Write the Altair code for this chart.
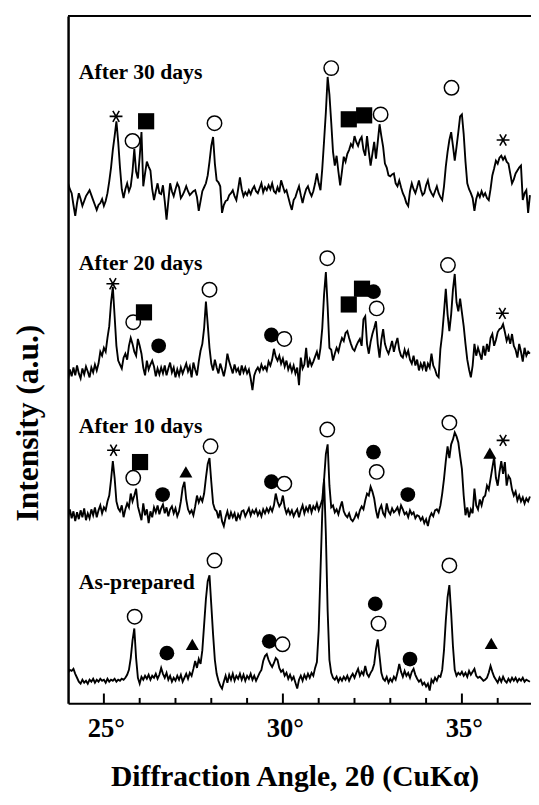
import altair as alt
import pandas as pd

# ---- data -------------------------------------------------------------
# 2-theta sampling grid (deg), 24.00 .. 36.90 in 0.05 steps
angles = [round(24.0 + 0.05 * i, 2) for i in range(259)]

series_names = ["As-prepared", "After 10 days", "After 20 days", "After 30 days"]
series_offsets = [22, 191, 335, 510]  # vertical stacking offsets (a.u.)

as_prepared = (
    [9, 12, 11, 13, 8, 4, 0, -2, 2, -1, 1, -2, 2, 0, 3, -1, 2, 0, 3, 1]
    + [2, -1, 3, 0, 2, 1, 3, 0, 2, 1, 3, 2, 4, 7, 12, 24, 42, 54, 24, 4]
    + [-2, 5, 2, 6, 3, 7, 2, 6, 4, 8, 3, 7, 14, 8, 4, 9, 2, 6, 0, 4]
    + [1, 6, 2, 7, 0, 4, 8, 3, 9, 6, 13, 21, 14, 23, 18, 32, 58, 84, 102, 108]
    + [78, 48, 22, 8, 1, -4, -7, 0, 6, -1, 7, 2, 8, 1, 6, 3, 8, 2, 7, 1]
    + [6, 3, 8, 2, 6, 1, 5, 9, 12, 21, 26, 28, 22, 18, 15, 19, 24, 22, 14, 10]
    + [12, 6, 9, 3, 7, 2, 5, -1, -7, 2, 6, 1, 7, 3, 8, 4, 9, 6, 14, 20]
    + [52, 112, 172, 206, 150, 72, 22, 9, 4, 2, 5, 0, 4, 1, 5, 2, 6, 1, 5, 8]
    + [4, 9, 13, 6, 10, 7, 16, 8, 5, 9, 12, 18, 33, 43, 26, 9, 3, 1, 5, -1]
    + [3, 0, 5, 2, 9, 18, 10, 5, 11, 6, 9, 4, 10, 13, 7, 3, 0, 2, -3, -1]
    + [-5, -2, -9, 2, -1, 4, 1, 6, 5, 12, 32, 62, 86, 98, 70, 36, 12, 6, 9, 7]
    + [10, 6, 9, 5, 11, 7, 10, 13, 6, 4, 5, 3, 1, 2, 4, 9, 16, 10, 5, 2]
    + [-1, 4, 0, 5, 1, -1, 3, 0, 4, 1, 4, 0, 3, 1, 4, 0, 2, 1, 0]
)

after_10 = (
    [-2, 6, -3, 4, -6, 3, -4, 5, -2, 7, -5, 2, -3, 6, 0, 8, -2, 5, 10, 2]
    + [8, 5, 14, 20, 36, 55, 38, 14, 7, 4, 10, -2, 6, 12, 8, 22, 14, 20, 27, 9]
    + [2, -5, 12, 0, 6, -8, 4, -2, 8, 3, 10, 1, 7, 11, 2, 8, -1, 6, 9, 2]
    + [7, -1, 4, 14, 28, 34, 16, 6, 2, 5, 0, 9, 20, 13, 18, 14, 22, 38, 52, 58]
    + [34, 12, 6, 4, -3, 5, -6, -11, -2, 4, -4, 3, -2, 2, -6, 1, -3, 4, 5, -1]
    + [3, 7, 0, 5, 2, 6, 0, 4, -1, 6, 2, 7, 3, 8, 4, 10, 22, 14, 9, 12]
    + [20, 8, 2, 6, 1, 5, -1, 3, 6, -2, 5, 10, 2, 8, 4, 11, 3, 9, 6, 12]
    + [5, 10, 16, 36, 62, 72, 30, 8, 10, 3, 6, 1, 8, 14, 4, 0, -2, 2, -4, -6]
    + [-3, 2, -2, 5, 9, 6, 15, 22, 20, 29, 24, 17, 5, -3, 6, 10, 2, -1, 12, 4]
    + [1, 7, 3, 5, 8, 2, 10, 6, 1, 3, -2, 5, 1, 3, -3, 0, -1, -5, -2, -8]
    + [-4, -11, -2, 2, -1, 5, 6, 3, 10, 22, 37, 55, 70, 58, 72, 77, 84, 80, 74, 60]
    + [47, 20, 0, 8, -2, 6, 2, 27, 10, 6, 16, 10, 18, 20, 30, 26, 37, 48, 59, 38]
    + [30, 44, 55, 42, 54, 30, 40, 37, 26, 20, 24, 15, 20, 14, 18, 12, 17, 14, 19]
)

after_20 = (
    [-6, 4, -3, 6, -2, 8, 0, -5, 5, -1, 7, 2, -4, 6, 1, 9, 3, 10, 22, 18]
    + [26, 22, 36, 48, 72, 88, 58, 28, 13, 9, 5, 16, 20, 14, 28, 36, 30, 22, 18, 35]
    + [28, 20, 6, -2, 13, 4, 9, 13, 7, -3, 5, -1, 6, 0, 8, -2, 5, 11, 1, 6]
    + [-4, 4, -2, 6, 0, 5, 10, 2, 7, -4, 11, 4, -2, 12, 23, 30, 46, 73, 50, 26]
    + [10, 3, 14, 6, 0, 10, 4, -3, 6, 20, 12, 6, 0, 9, 2, 5, -2, 8, 1, 6]
    + [0, 4, -5, -17, -2, 3, 6, 2, 9, 4, 7, 3, 12, 8, 14, 25, 17, 13, 18, 10]
    + [15, 7, 13, 4, 9, 2, 8, 0, 6, -12, 16, 5, 9, 26, 6, 14, 8, 12, 17, 22]
    + [14, 26, 46, 80, 103, 68, 26, 24, 13, 20, 26, 22, 30, 36, 33, 41, 43, 36, 30, 25]
    + [23, 28, 32, 35, 28, 55, 58, 30, 20, 32, 40, 46, 53, 30, 16, 34, 45, 30, 24, 20]
    + [26, 33, 22, 30, 36, 24, 18, 16, 24, 18, 23, 14, 10, 18, 8, 14, 3, 10, 5, 12]
    + [2, 10, 6, 20, 8, 4, -2, -4, 25, 40, 62, 86, 60, 43, 60, 85, 101, 72, 63, 76]
    + [62, 48, 30, 14, 4, -4, 8, 30, 18, 26, 20, 14, 28, 18, 30, 22, 36, 40, 28, 34]
    + [42, 45, 46, 50, 42, 33, 38, 30, 40, 28, 24, 16, 30, 22, 12, 26, 18, 22, 20]
)

after_30 = (
    [18, 12, 8, -4, -15, -2, 8, 2, -5, 0, 5, 8, 11, 6, 1, -4, -9, -4, -2, 2]
    + [-5, 0, 8, 20, 34, 52, 66, 81, 60, 34, 12, 3, 12, 18, 10, 15, 30, 53, 30, 23]
    + [45, 70, 15, 28, 40, 35, 31, 12, 1, 10, 18, 8, 7, 16, 0, -19, 0, 18, 10, 5]
    + [12, 18, 14, 3, 6, 10, 15, 10, 6, 8, 10, 11, 4, -10, 0, 10, 14, 18, 26, 40]
    + [56, 65, 38, 21, 19, 15, -12, -4, 0, 1, 6, 8, 11, 5, 1, 12, 24, 12, 5, 9]
    + [6, 11, 7, 12, 15, 10, 8, 13, 18, 9, 14, 11, 16, 12, 18, 10, 8, 14, 9, 21]
    + [15, 9, 11, 4, -3, -9, 1, 4, 10, 15, 6, -2, 6, 12, 15, 9, 5, 10, 18, 28]
    + [18, 11, 33, 61, 90, 126, 108, 80, 50, 36, 46, 30, 16, 30, 45, 40, 48, 52, 58, 55]
    + [66, 60, 56, 62, 65, 52, 46, 66, 50, 36, 48, 60, 43, 60, 78, 66, 55, 38, 34, 26]
    + [25, 27, 28, 18, 15, 21, 14, 8, 4, -2, -5, 10, 18, 12, 8, 14, 21, 12, 6, 8]
    + [16, 21, 12, 8, 5, 10, 15, 8, 4, 1, 15, 35, 50, 62, 70, 56, 41, 55, 70, 86]
    + [88, 68, 40, 18, 12, 8, 3, -10, 2, 8, 4, 10, 5, 8, 3, 1, 12, 26, 33, 41]
    + [38, 44, 46, 42, 45, 40, 38, 28, 18, 22, 28, 31, 34, 36, 1, 8, 11, -12, 6]
)

# phase markers: position (deg, a.u.) and kind
marker_angle = [
    25.34, 25.80, 26.18, 28.09, 31.35, 31.84, 32.27, 32.73, 34.71, 36.15,
    25.25, 26.12, 25.82, 26.53, 27.95, 29.68, 30.04, 31.24, 31.84, 32.21, 32.53, 32.62, 34.61, 36.13,
    25.27, 26.01, 25.82, 26.64, 27.29, 27.98, 29.68, 30.04, 31.24, 32.53, 32.62, 33.49, 34.65, 35.78, 36.15,
    25.86, 26.76, 27.47, 28.09, 29.62, 29.99, 32.58, 32.67, 33.55, 34.65, 35.82,
]
marker_value = [
    596, 571, 591, 589, 645, 593, 597, 598, 625, 572,
    426, 397, 387, 363, 420, 374, 370, 452, 405, 421, 418, 401, 445, 396,
    257, 245, 229, 212, 235, 261, 225, 223, 278, 255, 235, 212, 285, 254, 267,
    88, 51, 60, 145, 63, 60, 101, 81, 45, 140, 61,
]
marker_kind = [
    "star", "open", "square", "open", "open", "square", "square", "open", "open", "star",
    "star", "square", "open", "filled", "open", "filled", "open", "open", "square", "square", "filled", "open", "open", "star",
    "star", "square", "open", "filled", "triangle", "open", "filled", "open", "open", "filled", "open", "filled", "open", "triangle", "star",
    "open", "filled", "triangle", "open", "filled", "open", "filled", "open", "filled", "open", "triangle",
]

label_angle = [24.30, 24.30, 24.30, 24.30]
label_value = [116, 274, 440, 634]

major_ticks = [25, 30, 35]
minor_ticks = [26, 27, 28, 29, 31, 32, 33, 34, 36]

# ---- tables -----------------------------------------------------------
rows = []
for name, off, vals in zip(series_names, series_offsets,
                           [as_prepared, after_10, after_20, after_30]):
    for a, v in zip(angles, vals):
        rows.append({"series": name, "angle": a, "intensity": v + off})
lines_df = pd.DataFrame(rows)

markers_df = pd.DataFrame({"angle": marker_angle, "intensity": marker_value,
                           "kind": marker_kind})
labels_df = pd.DataFrame({"angle": label_angle, "intensity": label_value,
                          "label": series_names})
major_df = pd.DataFrame({"angle": major_ticks})
minor_df = pd.DataFrame({"angle": minor_ticks})

W, H = 470, 698
FONT = "Liberation Serif"

xscale = alt.Scale(domain=[24, 36.93], nice=False, zero=False)
yscale = alt.Scale(domain=[0, 698], nice=False, zero=False)

x_main = alt.X(
    "angle:Q", scale=xscale,
    axis=alt.Axis(
        values=major_ticks, labelExpr="datum.value + '°'",
        ticks=False, tickSize=0, grid=False,
        domainWidth=2, domainColor="black",
        labelFont=FONT, labelFontSize=27, labelFontWeight="bold",
        labelColor="black", labelBaseline="alphabetic", labelPadding=34,
        labelOffset=2,
        title="Diffraction Angle, 2θ (CuKα)", titleFont=FONT,
        titleFontSize=30, titleFontWeight="bold", titleColor="black",
        titleBaseline="alphabetic", titleX=230, titleY=83,
    ),
)
y_main = alt.Y(
    "intensity:Q", scale=yscale,
    axis=alt.Axis(
        labels=False, ticks=False, grid=False,
        domainWidth=2.5, domainColor="black",
        title="Intensity (a.u.)", titleFont=FONT, titleFontSize=32,
        titleFontWeight="bold", titleColor="black",
        titleAngle=270, titleBaseline="alphabetic", titleAlign="center",
        titleX=-31, titleY=413,
    ),
)
xs = alt.X("angle:Q", scale=xscale)
ys = alt.Y("intensity:Q", scale=yscale)

lines = alt.Chart(lines_df).mark_line(
    color="black", strokeWidth=1.9, clip=True
).encode(x=x_main, y=y_main, detail="series:N", order="angle:Q")

def mk(kind, **kw):
    return alt.Chart(markers_df).transform_filter(
        alt.datum.kind == kind
    ).mark_point(opacity=1, **kw).encode(x=xs, y=ys)

filled_c = mk("filled", shape="circle", filled=True, color="black", size=225)
open_c = mk("open", shape="circle", filled=True, fill="white", stroke="black",
            strokeWidth=1.5, size=215)
squares = mk("square", shape="square", filled=True, color="black", size=270)
tris = mk("triangle", shape="triangle-up", filled=True, color="black", size=175)
stars = mk("star", shape="M-1,0L1,0M-0.5,-0.866L0.5,0.866M-0.5,0.866L0.5,-0.866",
           filled=False, stroke="black", strokeWidth=1.6, size=170)

labels = alt.Chart(labels_df).mark_text(
    align="left", baseline="alphabetic", font=FONT, fontSize=22,
    fontWeight="bold", color="black"
).encode(x=xs, y=ys, text="label:N")

major = alt.Chart(major_df).mark_rule(color="black", strokeWidth=2).encode(
    x=xs, y=alt.value(H - 10), y2=alt.value(H))
minor = alt.Chart(minor_df).mark_rule(color="black", strokeWidth=2).encode(
    x=xs, y=alt.value(H - 5.5), y2=alt.value(H))
top = alt.Chart(major_df).mark_rule(color="black", strokeWidth=2).encode(
    x=alt.value(0), x2=alt.value(W), y=alt.value(0))

chart = alt.layer(
    lines, major, minor, top, filled_c, open_c, squares, tris, stars, labels
).properties(
    width=W, height=H,
    autosize=alt.AutoSizeParams(type="none"),
    padding={"left": 61, "top": 2, "right": 0, "bottom": 85},
    background="white",
).configure_view(stroke=None)

chart.save("out.html", embed_options={"renderer": "svg", "actions": False})
